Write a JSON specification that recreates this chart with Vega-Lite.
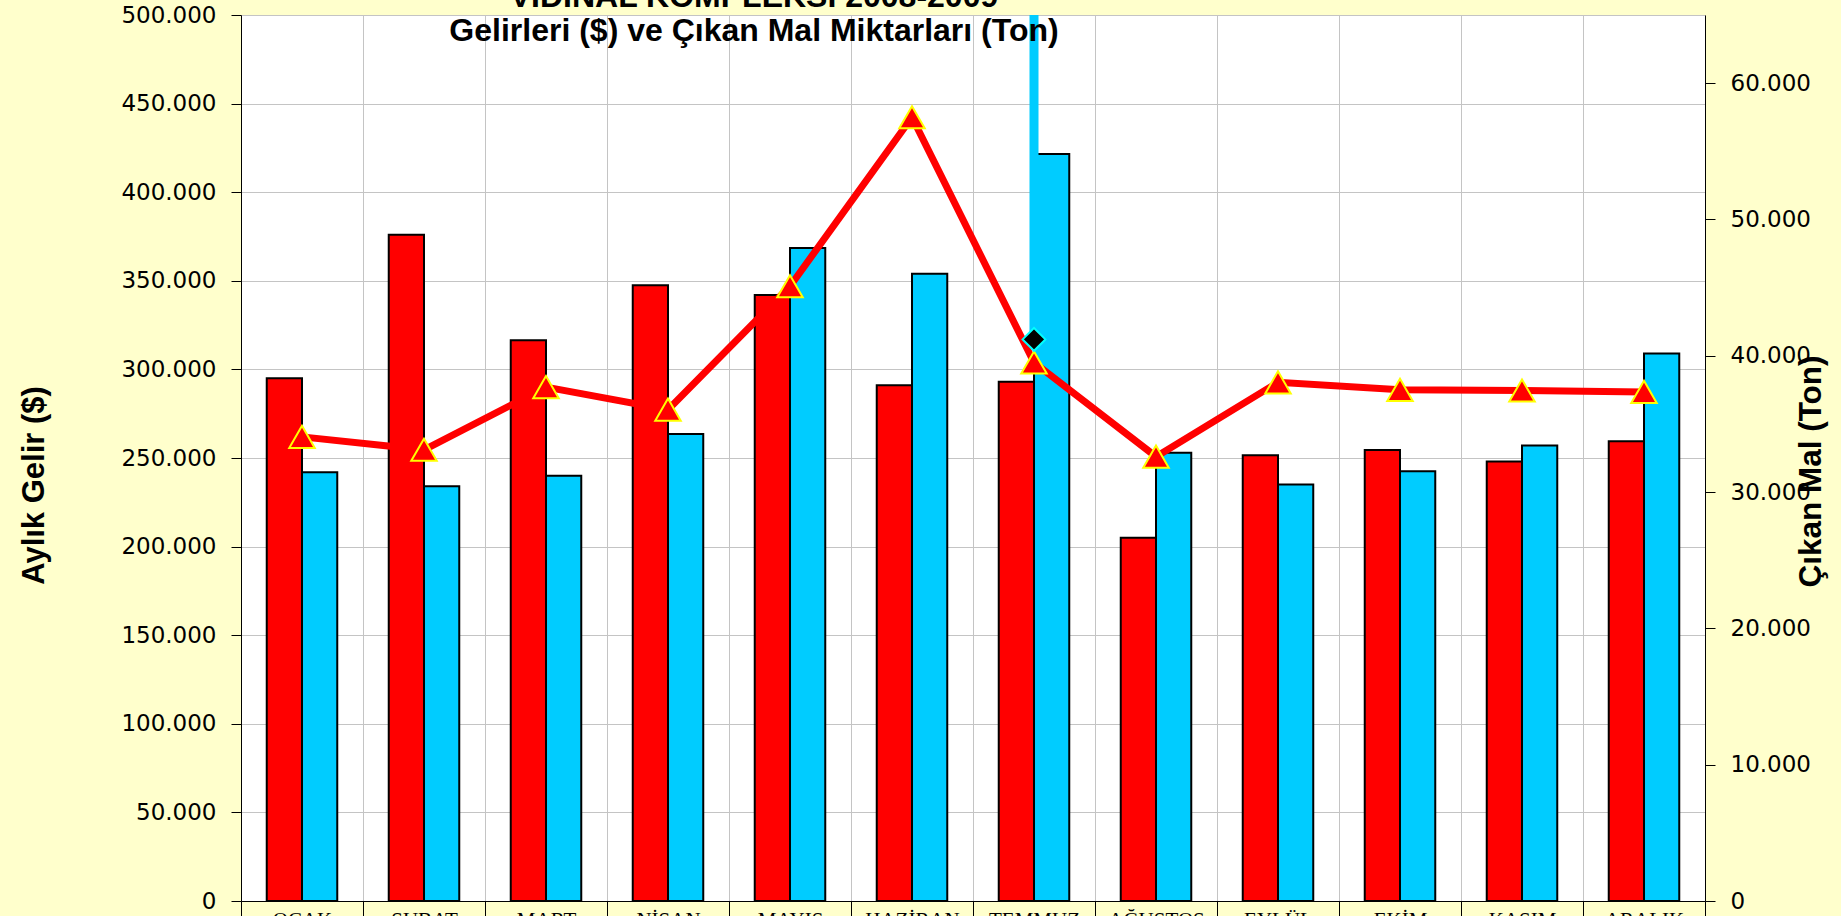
{
  "$schema": "https://vega.github.io/schema/vega-lite/v6.json",
  "autosize": "none",
  "width": 1464,
  "height": 886,
  "padding": {"left": 241, "top": 15, "right": 136, "bottom": 15},
  "background": "#FFFFCC",
  "title": {
    "text": ["VİDİNAL KOMPLEKSİ 2008-2009", "Gelirleri ($) ve Çıkan Mal Miktarları (Ton)"],
    "font": "Liberation Sans Narrow, Liberation Sans, Arial, sans-serif",
    "fontSize": 32,
    "fontWeight": "bold",
    "color": "black",
    "lineHeight": 34,
    "anchor": "middle",
    "offset": 0,
    "dx": -219,
    "dy": 44
  },
  "datasets": {
    "gelir": [
      {"ay": "OCAK", "yil": "2008", "gelir": 295000},
      {"ay": "OCAK", "yil": "2009", "gelir": 242000},
      {"ay": "ŞUBAT", "yil": "2008", "gelir": 376000},
      {"ay": "ŞUBAT", "yil": "2009", "gelir": 234000},
      {"ay": "MART", "yil": "2008", "gelir": 316500},
      {"ay": "MART", "yil": "2009", "gelir": 240000},
      {"ay": "NİSAN", "yil": "2008", "gelir": 347500},
      {"ay": "NİSAN", "yil": "2009", "gelir": 263500},
      {"ay": "MAYIS", "yil": "2008", "gelir": 342000},
      {"ay": "MAYIS", "yil": "2009", "gelir": 368500},
      {"ay": "HAZİRAN", "yil": "2008", "gelir": 291000},
      {"ay": "HAZİRAN", "yil": "2009", "gelir": 354000},
      {"ay": "TEMMUZ", "yil": "2008", "gelir": 293000},
      {"ay": "TEMMUZ", "yil": "2009", "gelir": 421500},
      {"ay": "AĞUSTOS", "yil": "2008", "gelir": 205000},
      {"ay": "AĞUSTOS", "yil": "2009", "gelir": 253000},
      {"ay": "EYLÜL", "yil": "2008", "gelir": 251500},
      {"ay": "EYLÜL", "yil": "2009", "gelir": 235000},
      {"ay": "EKİM", "yil": "2008", "gelir": 254500},
      {"ay": "EKİM", "yil": "2009", "gelir": 242500},
      {"ay": "KASIM", "yil": "2008", "gelir": 248000},
      {"ay": "KASIM", "yil": "2009", "gelir": 257000},
      {"ay": "ARALIK", "yil": "2008", "gelir": 259500},
      {"ay": "ARALIK", "yil": "2009", "gelir": 309000}
    ],
    "ton": [
      {"ay": "OCAK", "ton": 34050},
      {"ay": "ŞUBAT", "ton": 33100},
      {"ay": "MART", "ton": 37700},
      {"ay": "NİSAN", "ton": 36050},
      {"ay": "MAYIS", "ton": 45100},
      {"ay": "HAZİRAN", "ton": 57500},
      {"ay": "TEMMUZ", "ton": 39500},
      {"ay": "AĞUSTOS", "ton": 32600},
      {"ay": "EYLÜL", "ton": 38050},
      {"ay": "EKİM", "ton": 37500},
      {"ay": "KASIM", "ton": 37450},
      {"ay": "ARALIK", "ton": 37350}
    ],
    "ton2": [
      {"ay": "TEMMUZ", "ton": 41200}
    ]
  },
  "encoding": {
    "x": {
      "field": "ay",
      "type": "nominal",
      "sort": ["OCAK", "ŞUBAT", "MART", "NİSAN", "MAYIS", "HAZİRAN", "TEMMUZ", "AĞUSTOS", "EYLÜL", "EKİM", "KASIM", "ARALIK"],
      "scale": {"paddingInner": 0, "paddingOuter": 0},
      "axis": {
        "title": null,
        "labelAngle": 0,
        "tickBand": "extent",
        "tickSize": 20,
        "labelPadding": -12,
        "labelFont": "Liberation Serif",
        "labelFontSize": 21,
        "labelColor": "black",
        "tickColor": "black",
        "domainColor": "black",
        "grid": true,
        "gridColor": "#C4C4C4",
        "gridWidth": 1
      }
    }
  },
  "layer": [
    {
      "data": {"name": "gelir"},
      "mark": {"type": "bar", "stroke": "black", "strokeWidth": 2},
      "encoding": {
        "xOffset": {
          "field": "yil",
          "type": "nominal",
          "sort": ["2008", "2009"],
          "scale": {"paddingInner": 0, "paddingOuter": 0.73}
        },
        "y": {
          "field": "gelir",
          "type": "quantitative",
          "scale": {"domain": [0, 500000], "nice": false, "zero": true},
          "axis": {
            "orient": "left",
            "values": [0, 50000, 100000, 150000, 200000, 250000, 300000, 350000, 400000, 450000, 500000],
            "format": ",d",
            "title": "Aylık Gelir ($)",
            "titleFont": "Liberation Sans Narrow, Liberation Sans, Arial, sans-serif",
            "titleFontSize": 31,
            "titleFontWeight": "bold",
            "titleColor": "black",
            "titleAngle": -90,
            "titleAlign": "center",
            "titleBaseline": "middle",
            "titleX": -207,
            "titleY": 470,
            "labelFont": "DejaVu Sans",
            "labelFontSize": 23,
            "labelColor": "black",
            "labelPadding": 15,
            "tickSize": 10,
            "tickColor": "black",
            "domainColor": "black",
            "grid": true,
            "gridColor": "#C4C4C4"
          }
        },
        "color": {
          "field": "yil",
          "type": "nominal",
          "scale": {"domain": ["2008", "2009"], "range": ["#FF0000", "#00CCFF"]},
          "legend": null
        }
      }
    },
    {
      "encoding": {
        "y": {
          "field": "ton",
          "type": "quantitative",
          "scale": {"domain": [0, 65000], "nice": false, "zero": true},
          "axis": {
            "orient": "right",
            "values": [0, 10000, 20000, 30000, 40000, 50000, 60000],
            "format": ",d",
            "title": "Çıkan Mal (Ton)",
            "titleFont": "Liberation Sans Narrow, Liberation Sans, Arial, sans-serif",
            "titleFontSize": 31.5,
            "titleFontWeight": "bold",
            "titleColor": "black",
            "titleAngle": -90,
            "titleAlign": "center",
            "titleBaseline": "middle",
            "titleX": 106,
            "titleY": 456,
            "labelFont": "DejaVu Sans",
            "labelFontSize": 23,
            "labelColor": "black",
            "labelPadding": 15,
            "tickSize": 10,
            "tickColor": "black",
            "domainColor": "black",
            "grid": false
          }
        }
      },
      "layer": [
        {
          "data": {"name": "ton2"},
          "mark": {"type": "rule", "color": "#00CCFF", "strokeWidth": 9, "clip": true},
          "encoding": {
            "y2": {"datum": 65000}
          }
        },
        {
          "data": {"name": "ton"},
          "mark": {"type": "line", "color": "#FF0000", "strokeWidth": 7}
        },
        {
          "data": {"name": "ton"},
          "mark": {"type": "point", "shape": "triangle-up", "filled": true, "fill": "#FF0000", "stroke": "#FFFF00", "strokeWidth": 2, "size": 650, "opacity": 1}
        },
        {
          "data": {"name": "ton2"},
          "mark": {"type": "point", "shape": "diamond", "filled": true, "fill": "black", "stroke": "#00FFFF", "strokeWidth": 2, "size": 520, "opacity": 1}
        }
      ]
    }
  ],
  "resolve": {"scale": {"y": "independent"}},
  "config": {
    "locale": {"number": {"decimal": ",", "thousands": ".", "grouping": [3], "currency": ["", "$"]}},
    "view": {"fill": "white", "stroke": null}
  }
}
